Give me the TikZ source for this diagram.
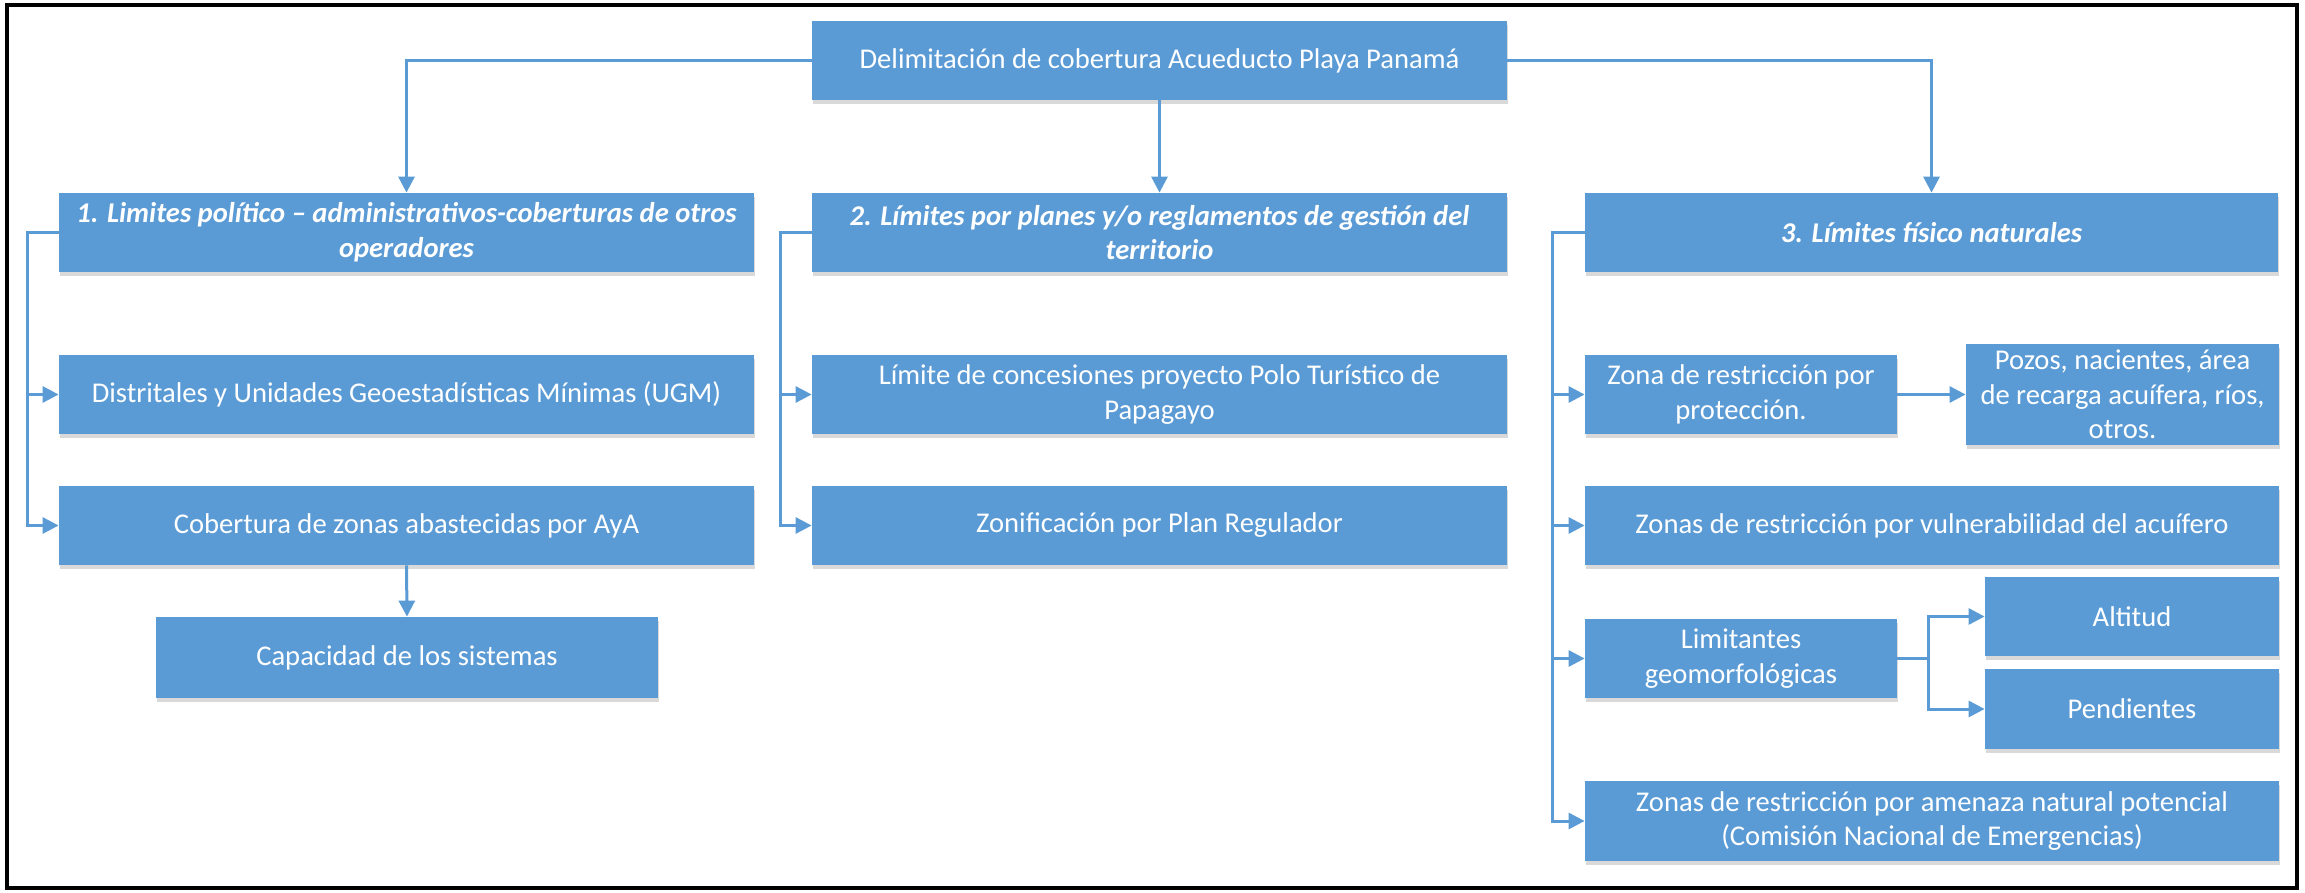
\documentclass[tikz,border=0pt]{standalone}
\usepackage{fontspec}
\setmainfont{Carlito}
\usetikzlibrary{arrows.meta,shadows}
\definecolor{boxblue}{HTML}{5B9BD5}
\definecolor{lineblue}{HTML}{5B9BD5}
\begin{document}
\begin{tikzpicture}[x=0.5pt,y=-0.5pt,
  bx/.style 2 args={draw=none,fill=boxblue,text=white,align=center,inner sep=0pt,
    minimum width=#1*0.5pt,minimum height=#2*0.5pt,
    font=\fontsize{14.3pt}{17.3pt}\selectfont,
    drop shadow={shadow xshift=0.5pt,shadow yshift=-2pt,opacity=0.15,fill=black}},
  hd/.style={font=\fontsize{14.3pt}{17.3pt}\selectfont\bfseries\itshape},
  conn/.style={draw=lineblue,line width=1.5pt,-{Triangle[length=8pt,width=8pt]}}
]
\useasboundingbox (0,0) rectangle (2305,893);
\draw[line width=1.8pt] (7,5) rectangle (2297,888);

% top
\node[bx={695}{79}] (top) at (1159.5,60.5) {Delimitación de cobertura Acueducto Playa Panamá};

% headers
\node[bx={695}{79},hd] (b1) at (406.5,232.5) {1. Limites político – administrativos-coberturas de otros\\operadores};
\node[bx={695}{79},hd] (b2) at (1159.5,232.5) {2. Límites por planes y/o reglamentos de gestión del\\territorio};
\node[bx={693}{79},hd] (b3) at (1931.5,232.5) {3. Límites físico naturales};

% column 1
\node[bx={695}{79}] (d1) at (406.5,394.5) {Distritales y Unidades Geoestadísticas Mínimas (UGM)};
\node[bx={695}{79}] (d2) at (406.5,525.5) {Cobertura de zonas abastecidas por AyA};
\node[bx={502}{81}] (cap) at (407,657.5) {Capacidad de los sistemas};

% column 2
\node[bx={695}{79}] (p1) at (1159.5,394.5) {Límite de concesiones proyecto Polo Turístico de\\Papagayo};
\node[bx={695}{79}] (p2) at (1159.5,525.5) {Zonificación por Plan Regulador};

% column 3
\node[bx={312}{79}] (zp) at (1741,394.5) {Zona de restricción por\\protección.};
\node[bx={313}{101}] (pz) at (2122.5,394.5) {Pozos, nacientes, área\\de recarga acuífera, ríos,\\otros.};
\node[bx={694}{79}] (zv) at (1932,525.5) {Zonas de restricción por vulnerabilidad del acuífero};
\node[bx={312}{79}] (lg) at (1741,658.5) {Limitantes\\geomorfológicas};
\node[bx={294}{79}] (alt) at (2132,616.5) {Altitud};
\node[bx={294}{80}] (pen) at (2132,709) {Pendientes};
\node[bx={694}{80}] (za) at (1932,821) {Zonas de restricción por amenaza natural potencial\\(Comisión Nacional de Emergencias)};

% connectors from top
\draw[conn] (top.west) -| (b1.north);
\draw[conn] (top.south) -- (b2.north);
\draw[conn] (top.east) -| (b3.north);

% column 1
\draw[conn] (b1.west) -- ++(-31,0) |- (d1.west);
\draw[conn] (b1.west) -- ++(-31,0) |- (d2.west);
\draw[conn] (d2.south) -- (cap.north);

% column 2
\draw[conn] (b2.west) -- ++(-31,0) |- (p1.west);
\draw[conn] (b2.west) -- ++(-31,0) |- (p2.west);

% column 3
\draw[conn] (b3.west) -- ++(-32,0) |- (zp.west);
\draw[conn] (b3.west) -- ++(-32,0) |- (zv.west);
\draw[conn] (b3.west) -- ++(-32,0) |- (lg.west);
\draw[conn] (b3.west) -- ++(-32,0) |- (za.west);
\draw[conn] (zp.east) -- (pz.west);
\draw[conn] (lg.east) -- ++(31,0) |- (alt.west);
\draw[conn] (lg.east) -- ++(31,0) |- (pen.west);
\end{tikzpicture}
\end{document}
